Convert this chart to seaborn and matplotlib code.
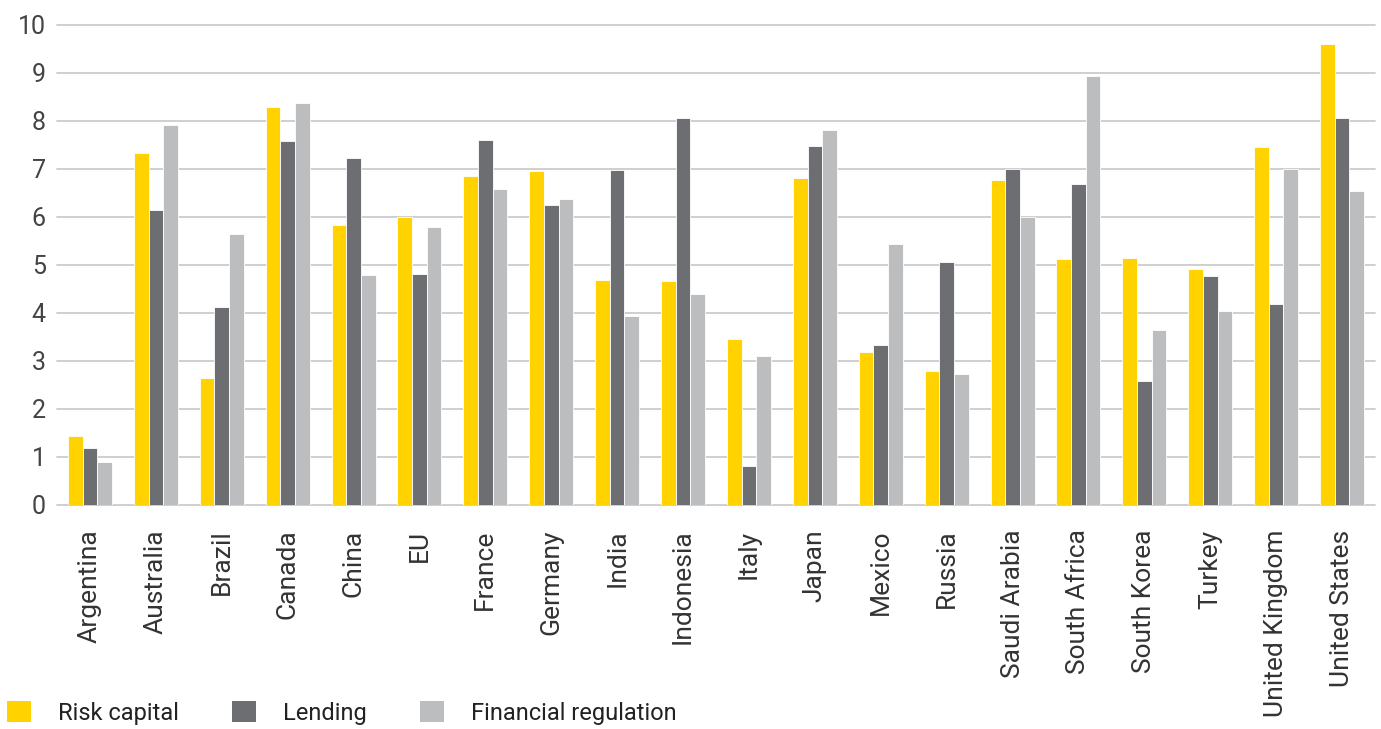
import matplotlib
matplotlib.use("Agg")
import matplotlib.pyplot as plt
import seaborn as sns
import pandas as pd
from matplotlib.patches import Patch

countries = ["Argentina", "Australia", "Brazil", "Canada", "China", "EU", "France",
             "Germany", "India", "Indonesia", "Italy", "Japan", "Mexico", "Russia",
             "Saudi Arabia", "South Africa", "South Korea", "Turkey",
             "United Kingdom", "United States"]
risk_capital = [1.43, 7.34, 2.63, 8.30, 5.82, 5.99, 6.85, 6.96, 4.69, 4.66,
                3.45, 6.81, 3.19, 2.79, 6.77, 5.11, 5.15, 4.92, 7.45, 9.60]
lending = [1.17, 6.15, 4.12, 7.58, 7.23, 4.81, 7.61, 6.25, 6.97, 8.06,
           0.80, 7.48, 3.33, 5.06, 6.99, 6.68, 2.58, 4.76, 4.19, 8.07]
financial_regulation = [0.88, 7.91, 5.65, 8.37, 4.78, 5.79, 6.58, 6.38, 3.93, 4.39,
                        3.09, 7.82, 5.44, 2.73, 5.99, 8.94, 3.64, 4.03, 6.99, 6.54]
series_names = ["Risk capital", "Lending", "Financial regulation"]
colors = ["#FFD200", "#6D6E71", "#BCBDBF"]
y_ticks = [0, 1, 2, 3, 4, 5, 6, 7, 8, 9, 10]

df = pd.DataFrame({
    "Country": countries,
    series_names[0]: risk_capital,
    series_names[1]: lending,
    series_names[2]: financial_regulation,
}).melt(id_vars="Country", var_name="Series", value_name="Score")

sns.set_theme(style="white")
plt.rcParams['font.family'] = ['Roboto', 'DejaVu Sans']

W, H = 1381, 729
fig = plt.figure(figsize=(W / 100, H / 100), dpi=100)
ax = fig.add_axes([57 / W, 1 - 504.5 / H, (1375 - 57) / W, (504.5 - 25) / H])

sns.barplot(data=df, x="Country", y="Score", hue="Series", hue_order=series_names,
            palette=colors, width=0.667, saturation=1, edgecolor="white",
            linewidth=0.6, errorbar=None, legend=False, ax=ax)

ax.set_ylim(0, 10)
ax.set_xlim(-0.5, len(countries) - 0.5)
ax.set_yticks(y_ticks)
ax.set_yticklabels([str(t) for t in y_ticks])
ax.yaxis.grid(True, color="#CCCCCC", linewidth=1.3)
ax.set_axisbelow(True)
for line in ax.get_ygridlines():
    line.set_clip_on(False)
for s in ax.spines.values():
    s.set_visible(False)
ax.tick_params(axis='x', rotation=90, labelsize=19, colors='#333333', length=0, pad=18)
ax.tick_params(axis='y', labelsize=18, colors='#444444', length=0, pad=8)
ax.set_xlabel("")
ax.set_ylabel("")

handles = [Patch(facecolor=c, edgecolor='none') for c in colors]
fig.legend(handles, series_names, loc='center left', bbox_to_anchor=(0.0, 1 - 713 / H),
           ncol=3, frameon=False, fontsize=17, handlelength=1.02, handleheight=1.0,
           handletextpad=1.14, columnspacing=2.25, borderaxespad=0.0, borderpad=0.3,
           labelcolor='#222222')

fig.savefig("out.png", dpi=100)
